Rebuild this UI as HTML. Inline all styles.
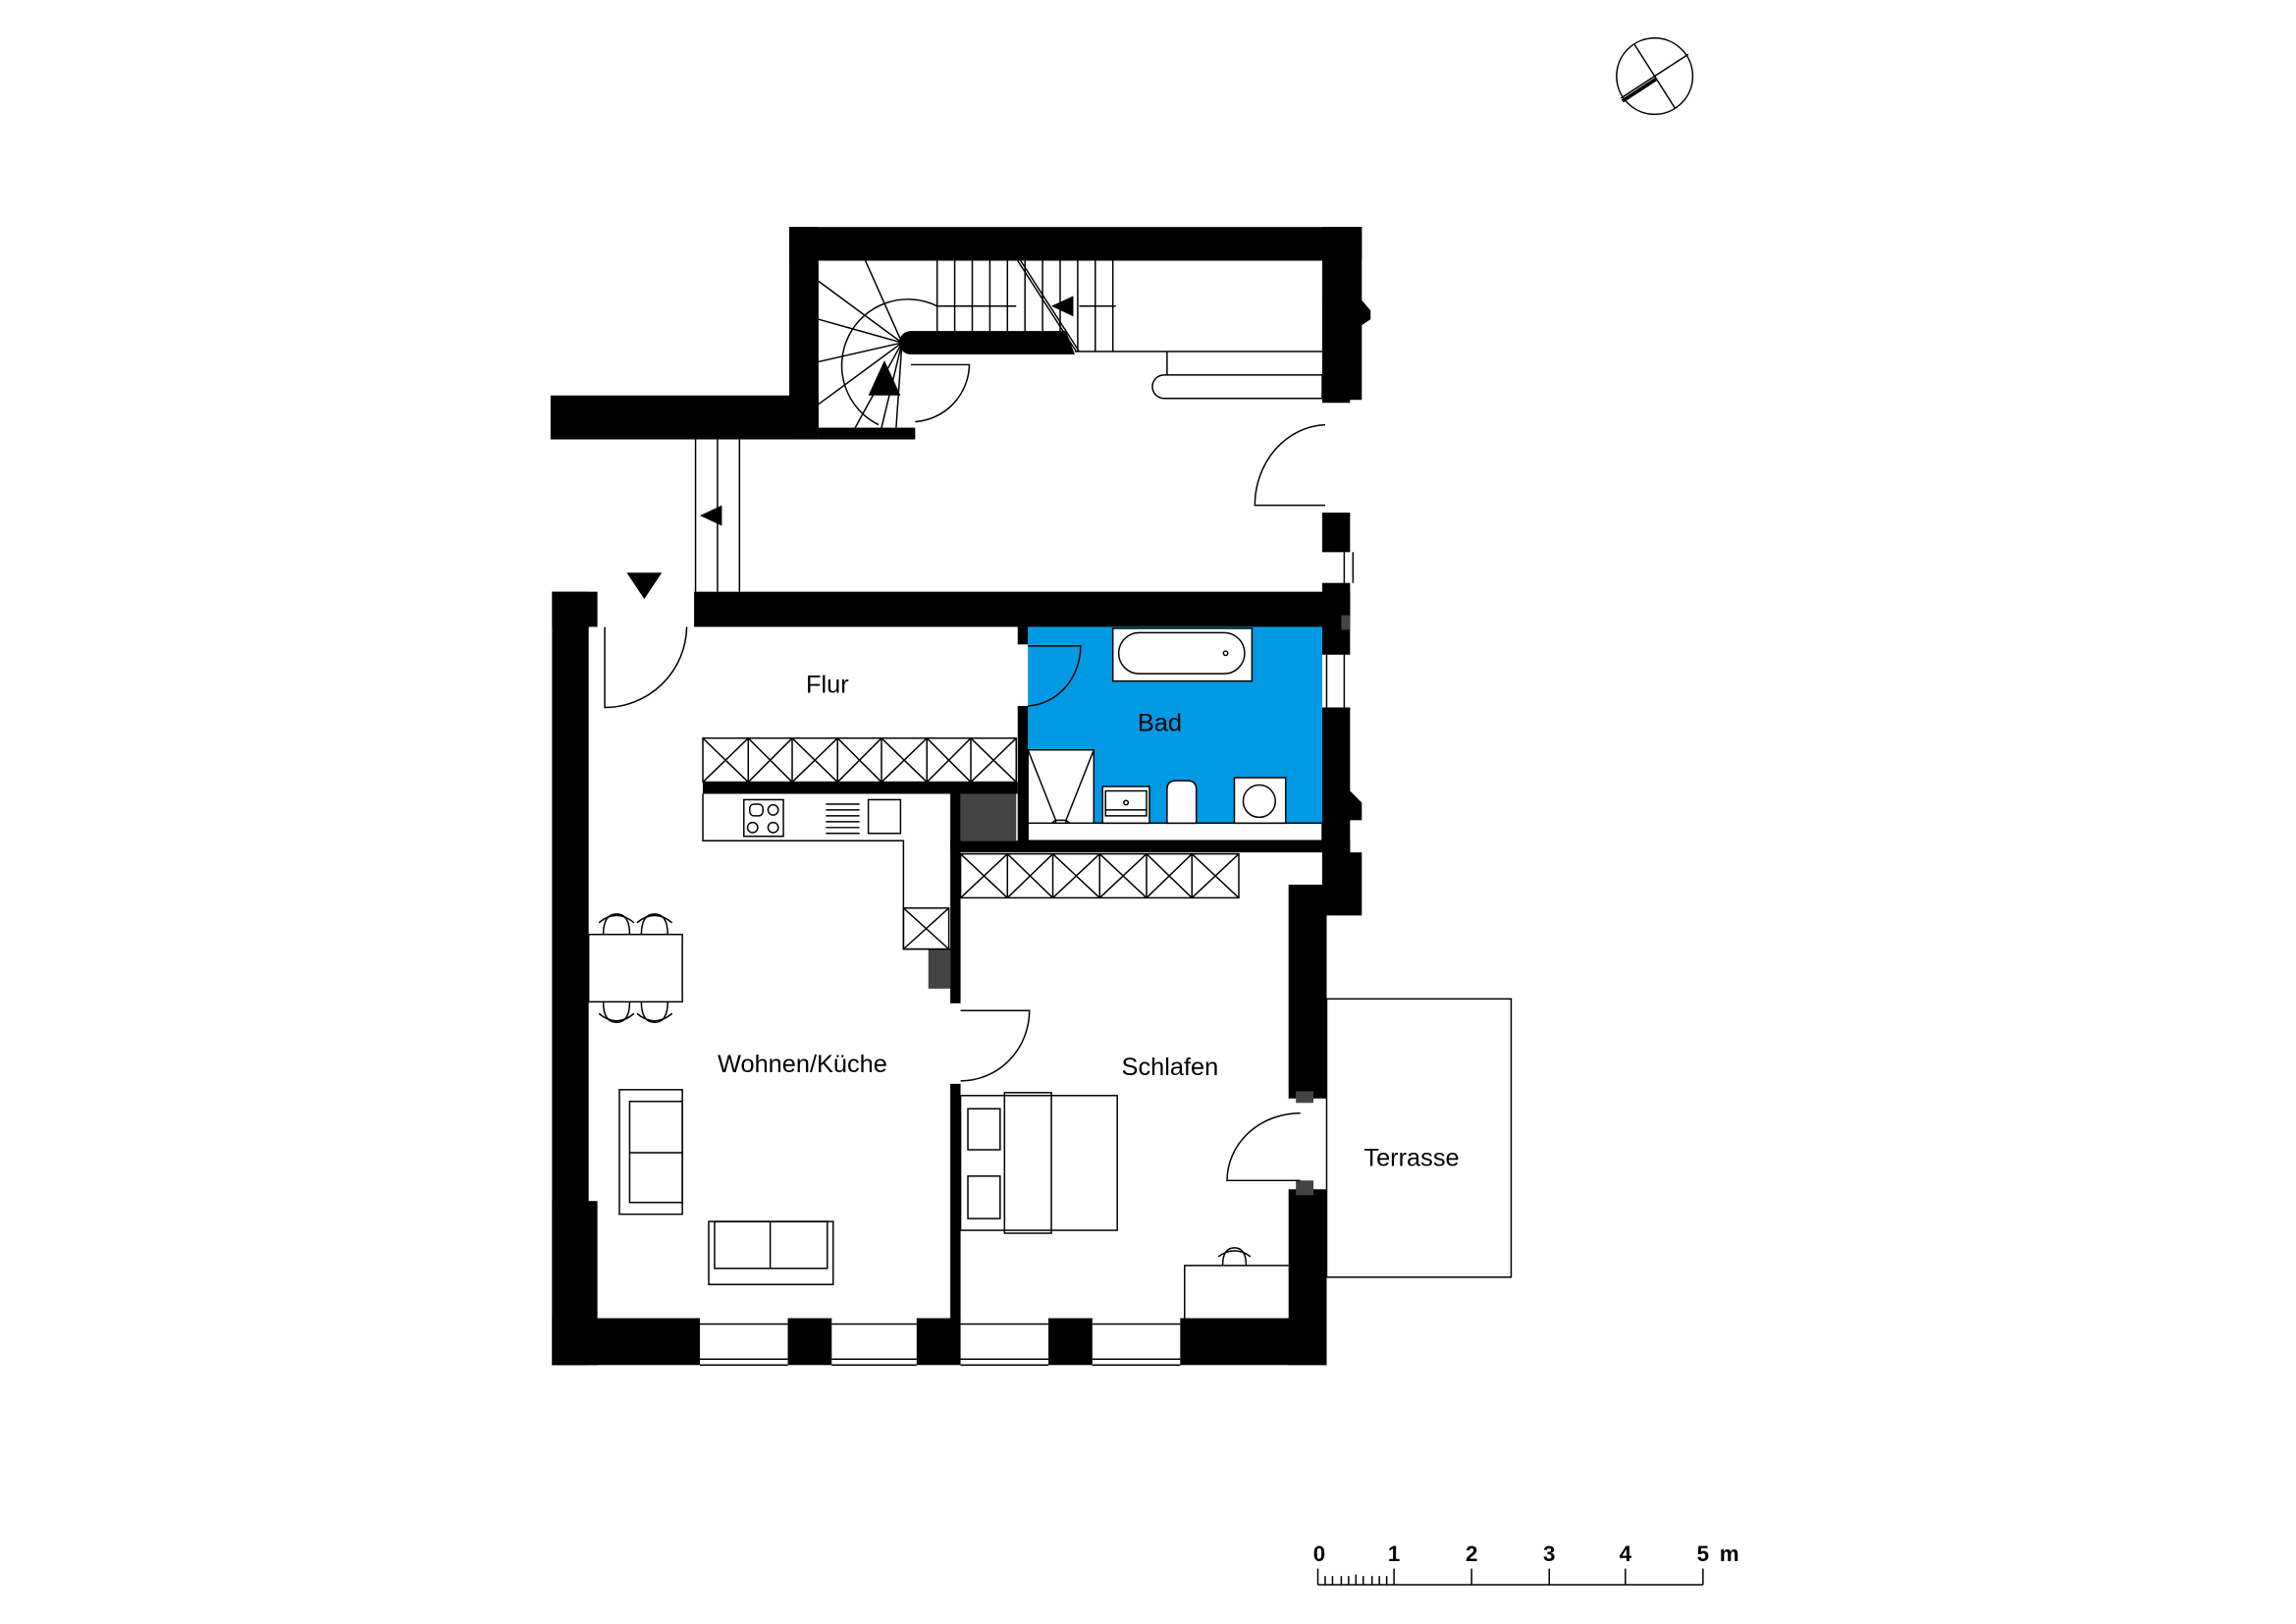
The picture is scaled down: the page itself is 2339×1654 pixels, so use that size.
<!DOCTYPE html>
<html><head><meta charset="utf-8"><style>html,body{margin:0;padding:0;background:#fff}svg{display:block}</style></head>
<body>
<svg width="2339" height="1654" viewBox="0 0 1568 1108.8" preserveAspectRatio="none" xmlns="http://www.w3.org/2000/svg" font-family="Liberation Sans, sans-serif">
<rect width="1568" height="1108.8" fill="#fff"/>
<g stroke="#000" stroke-width="1" fill="none">
<circle cx="1130" cy="52" r="26"/>
<line x1="1116" y1="30" x2="1144" y2="74"/>
<line x1="1107" y1="67" x2="1153" y2="37"/>
<line x1="1108" y1="69" x2="1131" y2="54" stroke-width="2.5"/>
</g>
<rect x="906" y="682" width="126" height="190" fill="none" stroke="#000" stroke-width="1"/>
<rect x="702" y="428" width="201" height="134" fill="#0099e3"/>
<g fill="#000">
<rect x="539" y="155" width="391" height="23"/>
<rect x="539" y="155" width="20" height="145"/>
<rect x="376" y="270" width="183" height="30"/>
<rect x="559" y="292" width="66" height="8"/>
<rect x="903" y="155" width="27" height="118"/>
<polygon points="930,205 936,212 936,218 930,222 922,245 922,275 903,275 903,205"/>
<rect x="903" y="350" width="19" height="27"/>
<rect x="903" y="398" width="19" height="30"/>
<path d="M622,226 H728 L734,242 H622 A8,8 0 0 1 622,226 Z"/>
<rect x="377" y="404" width="31" height="24"/>
<rect x="377" y="404" width="25" height="528"/>
<rect x="377" y="820" width="31" height="112"/>
<rect x="474" y="404" width="448" height="24"/>
<rect x="903" y="404" width="19" height="43"/>
<polygon points="903,483 922,483 922,540 930,548 930,560 922,560 922,582 930,582 930,625 906,625 906,750 880,750 880,604 903,604"/>
<rect x="880" y="812" width="26" height="120"/>
<rect x="695" y="428" width="7" height="12"/>
<rect x="695" y="482" width="7" height="96"/>
<rect x="480" y="534" width="215" height="8"/>
<rect x="649" y="574" width="273" height="8"/>
<rect x="649" y="540" width="7" height="145"/>
<rect x="649" y="740" width="7" height="162"/>
<rect x="377" y="900" width="101" height="32"/>
<rect x="538" y="900" width="30" height="32"/>
<rect x="626" y="900" width="30" height="32"/>
<rect x="716" y="900" width="30" height="32"/>
<rect x="806" y="900" width="100" height="32"/>
</g>
<g fill="#444">
<rect x="656" y="542" width="38" height="32"/>
<rect x="634" y="648" width="15" height="27"/>
<rect x="885" y="745" width="12" height="8"/>
<rect x="885" y="806" width="12" height="10"/>
<rect x="916" y="420" width="6" height="10"/>
</g>
<g stroke="#000" stroke-width="1" fill="none">
<line x1="795" y1="156" x2="848" y2="156" stroke-dasharray="5,3"/>
<line x1="795" y1="177" x2="848" y2="177" stroke-dasharray="5,3"/>
<path d="M640,178V226 M652,178V226 M664,178V226 M676,178V226 M688,178V226 M700,178V226 M712,178V226 M724,178V226 M736,178V240 M748,178V240 M760,178V240"/>
<path d="M640,209 H694 M737,209 H762"/>
<path d="M695,178 L735,240"/><path d="M697,178 L737,240"/>
<line x1="734" y1="240" x2="903" y2="240"/>
<line x1="797" y1="240" x2="797" y2="256"/>
<path d="M795,256 H903 V272 H795 A8,8 0 0 1 795,256 Z"/>
<path d="M640,209 A42,42 0 0 0 600,290"/>
<path d="M616,234 L591,178 M616,234 L559,192 M616,234 L559,218 M616,234 L559,247 M616,234 L559,276 M616,234 L584,292 M616,234 L602,292 M616,234 L612,292"/>
<path d="M622,249 H662 A40,40 0 0 1 625,288"/>
<path d="M905,345 H857 A50,55 0 0 1 905,290"/>
<line x1="918" y1="377" x2="918" y2="398"/><line x1="924" y1="377" x2="924" y2="398"/>
<line x1="906" y1="447" x2="906" y2="483"/><line x1="918" y1="447" x2="918" y2="483"/>
<path d="M475,300V404 M490,300V404 M505,300V404"/>
<path d="M413,428V483 A56,56 0 0 0 469,428"/>
<path d="M702,441H738 A38,41 0 0 1 702,482"/>
<path d="M656,690H703 A47,48 0 0 1 656,738"/>
<path d="M888,806H838 A50,46 0 0 1 888,760"/>
<path d="M478,904H538 M478,928H538 M478,932H538 M568,904H626 M568,928H626 M568,932H626 M656,904H716 M656,928H716 M656,932H716 M746,904H806 M746,928H806 M746,932H806"/>
<rect x="480" y="504" width="214" height="30"/>
<path d="M511,504V534 M541,504V534 M572,504V534 M602,504V534 M633,504V534 M663,504V534"/>
<path d="M480,504L511,534M511,504L480,534 M511,504L541,534M541,504L511,534 M541,504L572,534M572,504L541,534 M572,504L602,534M602,504L572,534 M602,504L633,534M633,504L602,534 M633,504L663,534M663,504L633,534 M663,504L694,534M694,504L663,534"/>
<rect x="656" y="583" width="190" height="30"/>
<path d="M688,583V613 M719,583V613 M751,583V613 M783,583V613 M814,583V613"/>
<path d="M656,583L688,613M688,583L656,613 M688,583L719,613M719,583L688,613 M719,583L751,613M751,583L719,613 M751,583L783,613M783,583L751,613 M783,583L814,613M814,583L783,613 M814,583L846,613M846,583L814,613"/>
<path d="M480,542V574H617V648H649"/>
<rect x="617" y="620" width="31" height="28"/>
<path d="M617,620L648,648M648,620L617,648"/>
<rect x="508" y="546" width="27" height="25"/>
<rect x="512" y="549" width="9" height="8" rx="3"/><circle cx="528" cy="553" r="3.5"/><circle cx="514" cy="565" r="3.5"/><circle cx="528" cy="565" r="3.5"/>
<path d="M564,549H587M564,553H587M564,557H587M564,561H587M564,565H587M564,569H587"/>
<rect x="593" y="546" width="22" height="23"/>
<rect x="760" y="429" width="95" height="36" fill="#fff"/>
<rect x="764" y="432" width="86" height="28" rx="14" fill="#fff"/>
<circle cx="837" cy="446" r="1.5"/>
<rect x="702" y="512" width="45" height="62" fill="#fff"/>
<path d="M702,512L721,560M747,512L728,560M721,560H728V574H721Z M702,574L721,560M747,574L728,560"/>
<rect x="702" y="562" width="201" height="12" fill="#fff"/>
<rect x="753" y="537" width="32" height="25" fill="#fff"/>
<rect x="755" y="540" width="28" height="17"/><line x1="755" y1="553" x2="783" y2="553"/><circle cx="769" cy="548" r="1.5"/>
<path d="M797,562V539 Q797,533 803,533 H811 Q817,533 817,539V562Z" fill="#fff"/>
<rect x="843" y="531" width="35" height="31" fill="#fff"/>
<circle cx="860" cy="547" r="11"/>
<rect x="402" y="638" width="64" height="46"/>
<path d="M412,638 Q412,624 421,624 Q430,624 430,638 M438,638 Q438,624 447,624 Q456,624 456,638"/>
<path d="M409,630 Q421,620 433,630 M435,630 Q447,620 459,630"/>
<path d="M412,684 Q412,698 421,698 Q430,698 430,684 M438,684 Q438,698 447,698 Q456,698 456,684"/>
<path d="M409,692 Q421,702 433,692 M435,692 Q447,702 459,692"/>
<rect x="423" y="744" width="43" height="85"/>
<rect x="430" y="752" width="36" height="69"/><line x1="430" y1="787" x2="466" y2="787"/>
<rect x="484" y="834" width="85" height="43"/>
<rect x="488" y="834" width="77" height="32"/><line x1="526" y1="834" x2="526" y2="866"/>
<rect x="656" y="748" width="107" height="92"/>
<rect x="686" y="746" width="32" height="96"/>
<rect x="661" y="757" width="22" height="28"/>
<rect x="661" y="803" width="22" height="29"/>
<path d="M809,900V864H880"/>
<path d="M835,864 Q835,852 843,852 Q851,852 851,864 M832,858 Q843,850 854,858"/>
</g>
<g fill="#000">
<polygon points="604,246 593,270 615,270"/>
<polygon points="718,209 733,202 733,216"/>
<polygon points="478,352 493,345 493,359"/>
<polygon points="428,391 452,391 440,409"/>
</g>
<g font-size="17" fill="#000" text-anchor="middle">
<text x="565" y="473">Flur</text>
<text x="792" y="499">Bad</text>
<text x="548" y="732">Wohnen/Küche</text>
<text x="799" y="734">Schlafen</text>
<text x="964" y="796">Terrasse</text>
</g>
<g stroke="#000" stroke-width="1" fill="none">
<path d="M900,1082H1163 M900,1071V1082 M952,1071V1082 M1005,1071V1082 M1058,1071V1082 M1110,1071V1082 M1163,1071V1082"/>
<path d="M905,1076V1082 M910,1076V1082 M916,1076V1082 M921,1076V1082 M926,1075V1082 M931,1076V1082 M937,1076V1082 M942,1076V1082 M947,1076V1082"/>
</g>
<g font-size="15" font-weight="bold" fill="#000" text-anchor="middle">
<text x="901" y="1066">0</text><text x="952" y="1066">1</text><text x="1005" y="1066">2</text><text x="1058" y="1066">3</text><text x="1110" y="1066">4</text><text x="1163" y="1066">5</text>
<text x="1181" y="1066">m</text>
</g>
</svg>
</body></html>
